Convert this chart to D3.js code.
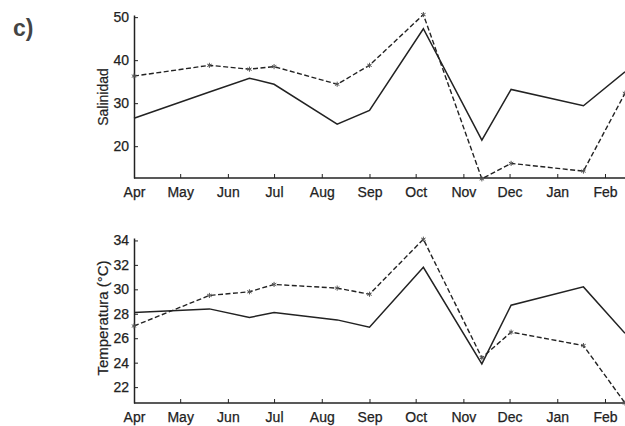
<!DOCTYPE html>
<html>
<head>
<meta charset="utf-8">
<script src="https://cdn.jsdelivr.net/npm/d3@7"></script>
<style>
  body { margin: 0; background: #fff; }
  svg { display: block; font-family: "Liberation Sans", Arial, sans-serif; }
</style>
</head>
<body>
<div id="chart"></div>
<script>
// Datos (fechas de muestreo y valores)

const fechas = ["2009-04-01", "2009-05-20", "2009-06-15", "2009-07-01", "2009-08-11",
    "2009-09-01", "2009-10-06", "2009-11-13", "2009-12-02", "2010-01-18", "2010-02-14"];

const salinidadSolida = [26.5, 32.6, 35.8, 34.4, 25.1, 28.3, 47.3, 21.4, 33.2, 29.4, 37.3];
const salinidadPunteada = [36.3, 38.8, 37.9, 38.5, 34.4, 38.8, 50.6, 12.4, 16.0, 14.2, 32.3];

const temperaturaSolida = [28.1, 28.4, 27.7, 28.1, 27.5, 26.9, 31.8, 23.9, 28.7, 30.2, 26.4];
const temperaturaPunteada = [27.0, 29.5, 29.8, 30.4, 30.1, 29.6, 34.1, 24.4, 26.5, 25.4, 20.7];

const ticksSalinidad = [20, 30, 40, 50];
const ticksTemperatura = [22, 24, 26, 28, 30, 32, 34];

const WIDTH = 625;
const HEIGHT = 426;
const INK = "#222";

const parseFecha = d3.timeParse("%Y-%m-%d");
const dias = fechas.map(parseFecha);

const svg = d3.select("#chart")
    .append("svg")
    .attr("width", WIDTH)
    .attr("height", HEIGHT);

svg.append("text")
    .attr("x", 13)
    .attr("y", 36)
    .attr("font-size", 23)
    .attr("font-weight", "bold")
    .attr("fill", "#444")
    .text("c)");

const xScale = d3.scaleTime()
    .domain([parseFecha("2009-04-01"), parseFecha("2010-02-14")])
    .range([134, 625]);

function panel(cfg) {
    const yScale = d3.scaleLinear()
        .domain(cfg.dominio)
        .range([cfg.abajo, cfg.arriba]);

    const g = svg.append("g");

    const ejeX = d3.axisBottom(xScale)
        .ticks(d3.timeMonth.every(1))
        .tickFormat(d3.timeFormat("%b"))
        .tickSizeInner(-4)
        .tickSizeOuter(0)
        .tickPadding(9);

    const ejeY = d3.axisLeft(yScale)
        .tickValues(cfg.ticks)
        .tickSizeInner(-4)
        .tickSizeOuter(0)
        .tickPadding(5);

    const gx = g.append("g")
        .attr("transform", `translate(0, ${cfg.abajo})`)
        .call(ejeX);
    gx.select(".domain").attr("d", `M134,0H${WIDTH}`);

    const gy = g.append("g")
        .attr("transform", `translate(134, 0)`)
        .call(ejeY);

    [gx, gy].forEach(eje => {
        eje.select(".domain").attr("stroke", INK).attr("stroke-width", 1.5);
        eje.selectAll(".tick line").attr("stroke", INK).attr("stroke-width", 1);
        eje.selectAll("text")
            .attr("font-size", 14)
            .attr("fill", INK)
            .attr("stroke", INK)
            .attr("stroke-width", 0.25)
            .style("font-family", "Liberation Sans, Arial, sans-serif");
    });

    g.append("text")
        .attr("transform", `translate(108, ${cfg.centroEtiqueta}) rotate(-90)`)
        .attr("text-anchor", "middle")
        .attr("font-size", cfg.tamEtiqueta)
        .attr("fill", INK)
        .attr("stroke", INK)
        .attr("stroke-width", 0.2)
        .text(cfg.etiqueta);

    const linea = d3.line()
        .x((d, i) => xScale(dias[i]))
        .y(d => yScale(d));

    g.append("path")
        .datum(cfg.solida)
        .attr("d", linea)
        .attr("fill", "none")
        .attr("stroke", INK)
        .attr("stroke-width", 1.5);

    g.append("path")
        .datum(cfg.punteada)
        .attr("d", linea)
        .attr("fill", "none")
        .attr("stroke", INK)
        .attr("stroke-width", 1.4)
        .attr("stroke-dasharray", "5,2.5");

    g.selectAll(".marca")
        .data(cfg.punteada)
        .join("path")
        .attr("class", "marca")
        .attr("transform", (d, i) => `translate(${xScale(dias[i])}, ${yScale(d)})`)
        .attr("d", d3.symbol(d3.symbolAsterisk, 18))
        .attr("fill", "none")
        .attr("stroke", "#555")
        .attr("stroke-width", 1);
}

panel({
    dominio: [12.6, 50.5],
    arriba: 15,
    abajo: 178,
    ticks: ticksSalinidad,
    etiqueta: "Salinidad",
    tamEtiqueta: 14,
    centroEtiqueta: 97,
    solida: salinidadSolida,
    punteada: salinidadPunteada,
});

panel({
    dominio: [20.7, 34.2],
    arriba: 238,
    abajo: 403,
    ticks: ticksTemperatura,
    etiqueta: "Temperatura (°C)",
    tamEtiqueta: 15,
    centroEtiqueta: 318,
    solida: temperaturaSolida,
    punteada: temperaturaPunteada,
});
</script>
</body>
</html>
